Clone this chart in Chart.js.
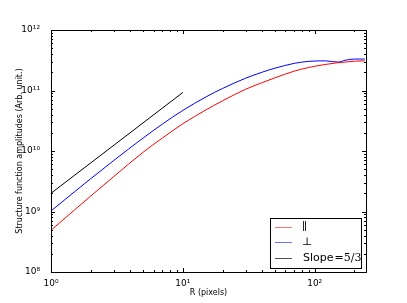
<!DOCTYPE html>
<html>
<head>
<meta charset="utf-8">
<script src="https://cdn.jsdelivr.net/npm/chart.js@4.4.1/dist/chart.umd.min.js"></script>
<style>
  body { margin: 0; background: #fff; }
  canvas { display: block; }
</style>
</head>
<body>
<canvas id="chart" width="407" height="303"></canvas>
<script>
// R values (pixels) shared by both structure functions
const radii = [1, 1.5, 2, 3, 5, 7, 10, 15, 20, 30, 40, 50, 70, 90, 120, 150, 170, 200, 240];
const parallel = [4.9e8, 1.05e9, 1.8e9, 3.8e9, 9.55e9, 1.64e10, 2.82e10, 4.79e10, 6.76e10, 1.05e11,
  1.35e11, 1.62e11, 2.09e11, 2.4e11, 2.69e11, 2.88e11, 2.95e11, 3.05e11, 3.09e11];
const perpendicular = [1.02e9, 2.1e9, 3.48e9, 7.0e9, 1.64e10, 2.79e10, 4.69e10, 7.85e10, 1.08e11, 1.6e11,
  2.01e11, 2.34e11, 2.81e11, 3.03e11, 3.09e11, 2.95e11, 3.16e11, 3.31e11, 3.31e11];
const slopeR = [1, 10];
const slopeVals = [2.0e9, 9.28e10];

const labels = ['∥', '⊥', 'Slope'];
const colors = ['#ff0000', '#0000ff', '#000000'];
const legendColors = ['#ff7070', '#7070ff', '#505050'];
const xTicks = [1, 10, 100];
const yTicks = [1e8, 1e9, 1e10, 1e11, 1e12];
const sup = { '0': '⁰', '1': '¹', '2': '²', '8': '⁸', '9': '⁹' };
const powLabel = (v) => '10' + String(Math.round(Math.log10(v))).split('').map(c => sup[c]).join('');

const pts = (xs, ys) => xs.map((x, i) => ({ x: x, y: ys[i] }));

// matplotlib style frame with inward ticks on every side
const frameTicks = {
  id: 'frameTicks',
  afterDatasetsDraw(chart) {
    const { ctx, chartArea: a, scales } = chart;
    ctx.save();
    ctx.strokeStyle = '#000';
    ctx.lineWidth = 1;
    ctx.beginPath();
    const tick = (x1, y1, x2, y2) => { ctx.moveTo(x1, y1); ctx.lineTo(x2, y2); };
    for (let d = 0; d <= 2; d++) {
      for (let m = 1; m <= 9; m++) {
        const v = m * Math.pow(10, d);
        if (v > scales.x.max) break;
        const px = Math.round(scales.x.getPixelForValue(v)) + 0.5;
        const len = m === 1 ? 4 : 2;
        tick(px, a.bottom, px, a.bottom - len);
        tick(px, a.top, px, a.top + len);
      }
    }
    for (let d = 8; d <= 12; d++) {
      for (let m = 1; m <= 9; m++) {
        const v = m * Math.pow(10, d);
        if (v > scales.y.max) break;
        const py = Math.round(scales.y.getPixelForValue(v)) + 0.5;
        const len = m === 1 ? 4 : 2;
        tick(a.left, py, a.left + len, py);
        tick(a.right, py, a.right - len, py);
      }
    }
    ctx.stroke();
    ctx.strokeRect(Math.round(a.left) + 0.5, Math.round(a.top) + 0.5,
      Math.round(a.right - a.left), Math.round(a.bottom - a.top));
    ctx.restore();
  }
};

// legend box in the lower right corner
const boxLegend = {
  id: 'boxLegend',
  afterDraw(chart) {
    const { ctx, chartArea: a } = chart;
    const x0 = Math.round(a.right) - 96, y0 = Math.round(a.bottom) - 54, w = 91, h = 50;
    ctx.save();
    ctx.fillStyle = '#fff';
    ctx.fillRect(x0, y0, w, h);
    ctx.strokeStyle = '#000';
    ctx.lineWidth = 1;
    ctx.strokeRect(x0 + 0.5, y0 + 0.5, w, h);
    labels.forEach((txt, i) => {
      const y = Math.round(y0 + 9 + i * 15.3);
      ctx.fillStyle = legendColors[i];
      ctx.fillRect(x0 + 5, y, 17, 1);
      ctx.fillStyle = '#000';
      ctx.textBaseline = 'middle';
      if (i < 2) {
        ctx.font = '11px "DejaVu Serif"';
        ctx.fillText(txt, x0 + 32, y);
      } else {
        ctx.font = '11px "DejaVu Sans"';
        ctx.fillText(txt, x0 + 33, y);
        const sw = ctx.measureText(txt).width;
        ctx.font = '11px "DejaVu Serif"';
        ctx.fillText('=5/3', x0 + 34 + sw, y);
      }
    });
    ctx.restore();
  }
};

new Chart(document.getElementById('chart'), {
  type: 'line',
  data: {
    datasets: [
      { label: labels[0], data: pts(radii, parallel), borderColor: colors[0], borderWidth: 1, pointRadius: 0, cubicInterpolationMode: 'monotone' },
      { label: labels[1], data: pts(radii, perpendicular), borderColor: colors[1], borderWidth: 1, pointRadius: 0, cubicInterpolationMode: 'monotone' },
      { label: labels[2], data: pts(slopeR, slopeVals), borderColor: colors[2], borderWidth: 1, pointRadius: 0 }
    ]
  },
  options: {
    responsive: false,
    animation: false,
    layout: { padding: { left: 0, top: 30, right: 41, bottom: 0 } },
    plugins: { legend: { display: false }, tooltip: { enabled: false } },
    scales: {
      x: {
        type: 'logarithmic',
        min: 1,
        max: 245,
        afterBuildTicks: (s) => { s.ticks = xTicks.map(v => ({ value: v })); },
        afterFit: (s) => { s.height = 31; },
        grid: { display: false },
        border: { display: false },
        ticks: { callback: (v) => powLabel(v), font: { family: 'DejaVu Sans', size: 9 }, color: '#000', padding: -2, maxRotation: 0 },
        title: { display: true, text: 'R (pixels)', font: { family: 'DejaVu Sans', size: 8 }, color: '#000', padding: { top: 0, bottom: 5 } }
      },
      y: {
        type: 'logarithmic',
        min: 1e8,
        max: 1e12,
        afterBuildTicks: (s) => { s.ticks = yTicks.map(v => ({ value: v })); },
        afterFit: (s) => { s.width = 51; },
        grid: { display: false },
        border: { display: false },
        ticks: { callback: (v) => powLabel(v), font: { family: 'DejaVu Sans', size: 9 }, color: '#000', padding: 3 },
        title: { display: true, text: 'Structure function amplitudes (Arb. unit.)', font: { family: 'DejaVu Sans', size: 8 }, color: '#000', padding: { top: 15, bottom: 0 } }
      }
    }
  },
  plugins: [frameTicks, boxLegend]
});
</script>
</body>
</html>
